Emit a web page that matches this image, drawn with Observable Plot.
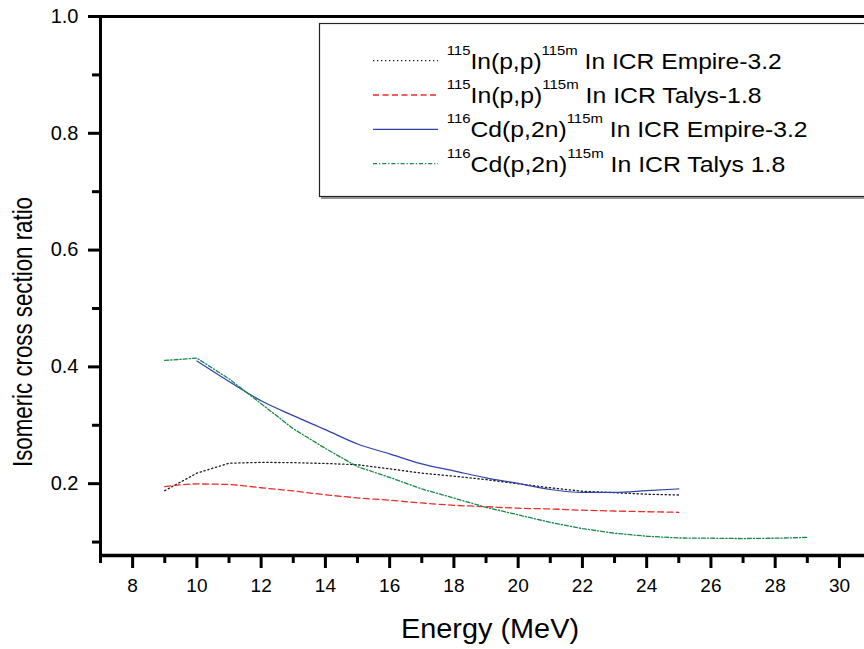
<!DOCTYPE html>
<html><head><meta charset="utf-8">
<script src="https://cdn.jsdelivr.net/npm/d3@7"></script>
<script src="https://cdn.jsdelivr.net/npm/@observablehq/plot@0.6"></script>
<style>body{margin:0;background:#fff;} #chart svg{display:block;}</style>
</head><body><div id="chart"></div>
<script>
// ---- data ----
const energyIn = [9,10,11,12,13,14,15,16,17,18,19,20,21,22,23,24,25];
const icrInEmpire = [0.188,0.218,0.235,0.2365,0.236,0.2346,0.2325,0.2254,0.218,0.2128,0.207,0.200,0.193,0.187,0.1846,0.182,0.1806];
const icrInTalys  = [0.195,0.1995,0.1986,0.193,0.1875,0.181,0.1757,0.1716,0.167,0.163,0.1606,0.158,0.1567,0.1546,0.1532,0.152,0.151];
const energyCdEmpire = [10,11,12,13,14,15,16,17,18,19,20,21,22,23,24,25];
const icrCdEmpire = [0.410,0.375,0.342,0.3165,0.2925,0.268,0.251,0.234,0.222,0.210,0.2005,0.190,0.185,0.185,0.188,0.191];
const energyCdTalys = [9,10,11,12,13,14,15,16,17,18,19,20,21,22,23,24,25,26,27,28,29];
const icrCdTalys = [0.411,0.415,0.3795,0.337,0.294,0.2603,0.229,0.2108,0.191,0.1753,0.1594,0.1467,0.1337,0.123,0.1152,0.110,0.107,0.1066,0.106,0.1066,0.108];
const xMajorTicks = [8,10,12,14,16,18,20,22,24,26,28,30];
const xMinorTicks = [7,9,11,13,15,17,19,21,23,25,27,29];
const yMajorTicks = [0.2,0.4,0.6,0.8,1.0];
const yMinorTicks = [0.1,0.3,0.5,0.7,0.9];
const legendParts = [
  ["115","In(p,p)","115m"," In ICR Empire-3.2"],
  ["115","In(p,p)","115m"," In ICR Talys-1.8"],
  ["116","Cd(p,2n)","115m"," In ICR Empire-3.2"],
  ["116","Cd(p,2n)","115m"," In ICR Talys 1.8"]
];
const seriesColors = ["#1a1a1a","#ee2a2a","#2c43a8","#16884a"];
const seriesDash = ["1.3,2.7","6,3.5","none","4,2,1.2,2"];
const seriesCurve = ["linear","monotone-x","monotone-x","linear"];
const xLabel = "Energy (MeV)";
const yLabel = "Isomeric cross section ratio";

const toRows = (xs, ys) => xs.map((x, i) => ({x, y: ys[i]}));
const series = [
  toRows(energyIn, icrInEmpire),
  toRows(energyIn, icrInTalys),
  toRows(energyCdEmpire, icrCdEmpire),
  toRows(energyCdTalys, icrCdTalys)
];

const xDom = [7, 30.78], yDom = [0.077, 1.0];
const plot = Plot.plot({
  width: 864, height: 649,
  marginLeft: 100, marginRight: 0, marginTop: 16, marginBottom: 94,
  x: {domain: xDom, axis: null},
  y: {domain: yDom, axis: null},
  style: {fontFamily: "'Liberation Sans', Arial, sans-serif", background: "white", color: "black"},
  marks: [
    ...series.map((d, i) => Plot.line(d, {x: "x", y: "y", curve: seriesCurve[i], stroke: seriesColors[i], strokeWidth: i === 2 ? 1.2 : 1.3, strokeDasharray: seriesDash[i]})),
    Plot.axisX(xMinorTicks, {anchor: "bottom", tickSize: 8, strokeWidth: 3, tickFormat: () => "", label: null}),
    Plot.axisX(xMajorTicks, {anchor: "bottom", tickSize: 13, strokeWidth: 3, tickPadding: 10, fontSize: 19, label: null}),
    Plot.axisY(yMinorTicks, {anchor: "left", tickSize: 8, strokeWidth: 3, tickFormat: () => "", label: null}),
    Plot.axisY(yMajorTicks, {anchor: "left", tickSize: 12, strokeWidth: 3, tickPadding: 10, fontSize: 20, tickFormat: d3.format(".1f"), label: null}),
    Plot.ruleY([yDom[0]], {strokeWidth: 3.5}),
    Plot.ruleY([yDom[1]], {strokeWidth: 3}),
    Plot.ruleX([xDom[0]], {strokeWidth: 3})
  ]
});
document.getElementById("chart").appendChild(plot);

const svg = d3.select(plot);
// axis titles
svg.append("text").attr("x", 490).attr("y", 638).attr("text-anchor", "middle")
  .attr("font-size", 28).attr("textLength", 178).attr("lengthAdjust", "spacingAndGlyphs")
  .attr("fill", "black").text(xLabel);
svg.append("text").attr("transform", "translate(32,332) rotate(-90)").attr("text-anchor", "middle")
  .attr("font-size", 28).attr("textLength", 270).attr("lengthAdjust", "spacingAndGlyphs")
  .attr("fill", "black").text(yLabel);

// legend
const lg = svg.append("g").attr("text-anchor", "start");
lg.append("rect").attr("x", 321).attr("y", 25).attr("width", 600).attr("height", 174).attr("fill", "#999");
lg.append("rect").attr("x", 319.5).attr("y", 23.5).attr("width", 600).attr("height", 173)
  .attr("fill", "white").attr("stroke", "#222").attr("stroke-width", 1.2);
const rowY = [60.7, 95, 129.3, 163.7];
const rowEnd = [781.7, 761.6, 807.5, 785.3];
legendParts.forEach((p, i) => {
  lg.append("line").attr("x1", 373).attr("x2", 438).attr("y1", rowY[i]).attr("y2", rowY[i])
    .attr("stroke", seriesColors[i]).attr("stroke-width", 1.3)
    .attr("stroke-dasharray", seriesDash[i] === "none" ? null : seriesDash[i]);
  const t = lg.append("text").attr("x", 446.7).attr("y", rowY[i] + 8).attr("font-size", 21.5).attr("fill", "black")
    .attr("text-anchor", "start")
    .attr("textLength", rowEnd[i] - 446.7).attr("lengthAdjust", "spacingAndGlyphs");
  t.append("tspan").attr("font-size", 13).attr("dy", -14).text(p[0]);
  t.append("tspan").attr("dy", 14).text(p[1]);
  t.append("tspan").attr("font-size", 13).attr("dy", -14).text(p[2]);
  t.append("tspan").attr("dy", 14).text(p[3]);
});
</script>
</body></html>
